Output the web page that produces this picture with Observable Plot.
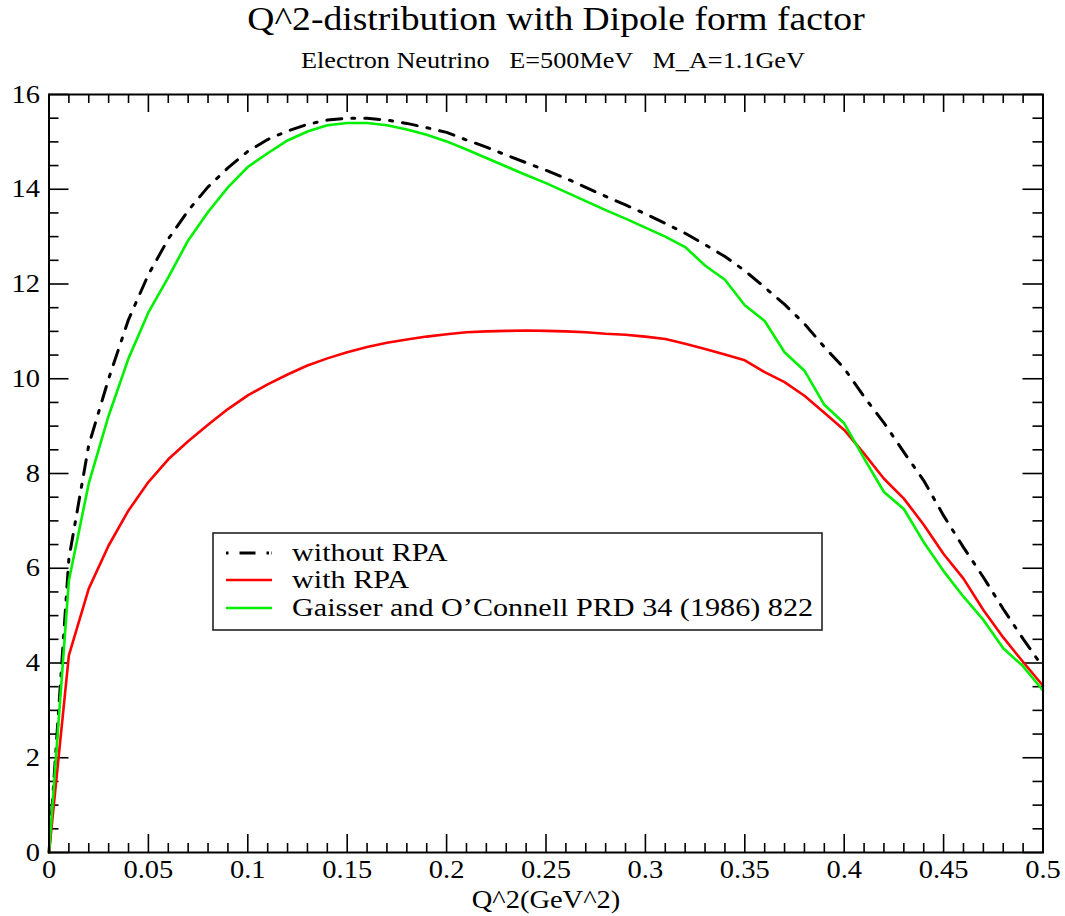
<!DOCTYPE html>
<html><head><meta charset="utf-8">
<script src="https://cdn.jsdelivr.net/npm/d3@7"></script>
<script src="https://cdn.jsdelivr.net/npm/@observablehq/plot@0.6"></script>
<style>
body{margin:0;background:#fff;}
#wrap{position:relative;width:1065px;height:916px;font-family:"Liberation Serif","Times New Roman",serif;}
#wrap svg{display:block;}
#legend{position:absolute;left:212px;top:532px;}
</style></head><body><div id="wrap"></div>
<script>
// ---- data ----
const q2 = [0,0.01,0.02,0.03,0.04,0.05,0.06,0.07,0.08,0.09,0.10,0.11,0.12,0.13,0.14,0.15,0.16,0.17,0.18,0.19,0.20,
  0.21,0.22,0.23,0.24,0.25,0.26,0.27,0.28,0.29,0.30,0.31,0.32,0.33,0.34,0.35,0.36,0.37,0.38,0.39,0.40,
  0.41,0.42,0.43,0.44,0.45,0.46,0.47,0.48,0.49,0.50];
const withoutRPA = [0,6.2,8.6,10.0,11.25,12.2,12.95,13.55,14.05,14.45,14.8,15.05,15.23,15.37,15.46,15.5,15.5,15.46,15.39,15.3,15.2,
  15.04,14.89,14.72,14.56,14.40,14.23,14.04,13.85,13.67,13.48,13.28,13.07,12.83,12.58,12.28,11.93,11.57,11.16,10.67,10.22,
  9.62,9.07,8.45,7.85,7.11,6.44,5.81,5.14,4.51,3.91];
const withRPA = [0,4.16,5.57,6.48,7.22,7.82,8.30,8.68,9.03,9.36,9.65,9.88,10.09,10.28,10.43,10.56,10.67,10.76,10.83,10.89,10.94,
  10.98,11.00,11.01,11.02,11.01,11.00,10.98,10.95,10.93,10.89,10.84,10.74,10.63,10.51,10.39,10.14,9.93,9.64,9.28,8.92,
  8.42,7.89,7.47,6.92,6.30,5.78,5.12,4.54,4.02,3.52];
const gaisser = [0,5.74,7.79,9.22,10.43,11.40,12.14,12.92,13.52,14.04,14.47,14.76,15.03,15.22,15.35,15.40,15.40,15.35,15.26,15.15,15.01,
  14.84,14.66,14.48,14.30,14.13,13.94,13.75,13.56,13.38,13.19,13.00,12.78,12.39,12.09,11.55,11.22,10.56,10.17,9.45,9.06,
  8.32,7.61,7.25,6.55,5.94,5.40,4.91,4.31,3.93,3.42];
const seriesNames = ["without RPA","with RPA","Gaisser and O\u2019Connell PRD 34 (1986) 822"];
const seriesColors = ["#000000","#ff0000","#00f000"];
const xTicks = [0,0.05,0.1,0.15,0.2,0.25,0.3,0.35,0.4,0.45,0.5];
const yTicks = [0,2,4,6,8,10,12,14,16];
const titleText = "Q^2-distribution with Dipole form factor";
const subtitleText = "Electron Neutrino   E=500MeV   M_A=1.1GeV";
const xLabel = "Q^2(GeV^2)";

// ---- layout ----
const W = 1065, headerH = 80, plotH = 836;
const mT = 14, mB = 64, mL = 48.5, mR = 22.5;
const innerW = W - mL - mR, innerH = plotH - mT - mB;
const dash = "15,10,3,10";
const STRETCH = 1.14;
const wrap = document.getElementById("wrap");

function stretchTexts(root, f) {
  root.querySelectorAll("text").forEach(t => {
    const w = t.getComputedTextLength();
    if (w > 0) { t.setAttribute("textLength", w * f); t.setAttribute("lengthAdjust", "spacingAndGlyphs"); }
  });
}

// header
const header = d3.create("svg").attr("width", W).attr("height", headerH)
  .style("font-family", '"Liberation Serif","Times New Roman",serif');
header.append("text").attr("x", 556).attr("y", 30).attr("text-anchor", "middle")
  .attr("font-size", 33).text(titleText);
header.append("text").attr("x", 553).attr("y", 68).attr("text-anchor", "middle")
  .attr("font-size", 23).style("white-space", "pre").text(subtitleText);
wrap.appendChild(header.node());

const rows = q2.map((q, i) => ({q, a: withoutRPA[i], b: withRPA[i], c: gaisser[i]}));
const xMinor = d3.range(0, 51).map(i => i / 100).filter(v => !xTicks.some(t => Math.abs(t - v) < 1e-9));
const yMinor = d3.range(0, 33).map(i => i / 2).filter(v => v % 2 !== 0);

const plot = Plot.plot({
  width: W, height: plotH,
  marginTop: mT, marginBottom: mB, marginLeft: mL, marginRight: mR,
  style: {fontFamily: '"Liberation Serif","Times New Roman",serif', fontSize: "25px", color: "black", background: "white", overflow: "visible"},
  x: {domain: [0, 0.5]},
  y: {domain: [0, 16]},
  marks: [
    // ticks (inward, mirrored)
    Plot.ruleX(xTicks, {insetTop: innerH - 18, stroke: "black", strokeWidth: 1.6}),
    Plot.ruleX(xTicks, {insetBottom: innerH - 18, stroke: "black", strokeWidth: 1.6}),
    Plot.ruleX(xMinor, {insetTop: innerH - 9, stroke: "black", strokeWidth: 1.6}),
    Plot.ruleX(xMinor, {insetBottom: innerH - 9, stroke: "black", strokeWidth: 1.6}),
    Plot.ruleY(yTicks, {insetRight: innerW - 20, stroke: "black", strokeWidth: 1.6}),
    Plot.ruleY(yTicks, {insetLeft: innerW - 20, stroke: "black", strokeWidth: 1.6}),
    Plot.ruleY(yMinor, {insetRight: innerW - 10, stroke: "black", strokeWidth: 1.6}),
    Plot.ruleY(yMinor, {insetLeft: innerW - 10, stroke: "black", strokeWidth: 1.6}),
    Plot.axisX(xTicks, {tickSize: 0, tickPadding: 8, fontSize: 25, label: null, tickFormat: d => String(+d.toFixed(2))}),
    Plot.axisY(yTicks, {tickSize: 0, tickPadding: 9, fontSize: 25, label: null, tickFormat: d => String(d)}),
    Plot.text([xLabel], {frameAnchor: "bottom", dy: 55, fontSize: 25}),
    // curves
    Plot.line(rows, {x: "q", y: "a", stroke: seriesColors[0], strokeWidth: 3, strokeDasharray: dash}),
    Plot.line(rows, {x: "q", y: "b", stroke: seriesColors[1], strokeWidth: 2.6}),
    Plot.line(rows, {x: "q", y: "c", stroke: seriesColors[2], strokeWidth: 2.6}),
    Plot.frame({stroke: "black", strokeWidth: 2})
  ]
});
wrap.appendChild(plot);

// legend
const lg = d3.create("svg").attr("id", "legend").attr("width", 612).attr("height", 100)
  .style("font-family", '"Liberation Serif","Times New Roman",serif');
lg.append("rect").attr("x", 1).attr("y", 1).attr("width", 609).attr("height", 97)
  .attr("fill", "white").attr("stroke", "#222").attr("stroke-width", 1.6);
const rowY = [21, 48, 76];
seriesNames.forEach((name, i) => {
  const ln = lg.append("line").attr("x1", 14).attr("x2", 60).attr("y1", rowY[i]).attr("y2", rowY[i])
    .attr("stroke", seriesColors[i]).attr("stroke-width", i === 0 ? 3 : 2.6);
  if (i === 0) ln.attr("stroke-dasharray", "2.5,11,16,11,2.5");
  lg.append("text").attr("class", "lgtext").attr("x", 80).attr("y", rowY[i] + 8).attr("font-size", 26).text(name);
});
wrap.appendChild(lg.node());

stretchTexts(header.node(), STRETCH);
stretchTexts(plot, STRETCH);
stretchTexts(lg.node(), 1.16);
</script></body></html>
